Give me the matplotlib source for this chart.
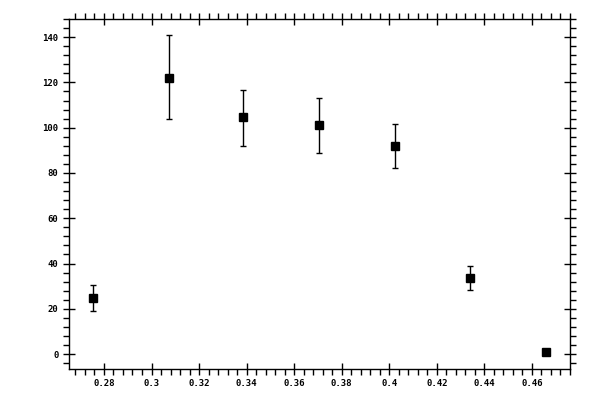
import matplotlib
matplotlib.use("Agg")
import matplotlib.pyplot as plt
from matplotlib.ticker import MultipleLocator

# values
x_vals = [0.2752, 0.3073, 0.3383, 0.3704, 0.4024, 0.4339, 0.4659]
y_vals = [24.6, 122.1, 104.5, 101.1, 92.1, 33.4, 0.8]
y_low = [18.8, 103.8, 92.1, 89.0, 82.4, 28.5, 0.8]
y_high = [30.6, 140.8, 116.8, 112.9, 101.8, 38.9, 0.8]

err_lo = [y - lo for y, lo in zip(y_vals, y_low)]
err_hi = [hi - y for y, hi in zip(y_vals, y_high)]

fig = plt.figure(figsize=(6, 4), dpi=100)
ax = fig.add_axes([0.115, 0.0775, 0.835, 0.875])

ax.errorbar(x_vals, y_vals, yerr=[err_lo, err_hi], fmt="s", color="black",
            markersize=5.5, elinewidth=1, capsize=2.5, capthick=1)

ax.set_xlim(0.2653, 0.476)
ax.set_ylim(-6.6, 148)

ax.xaxis.set_major_locator(MultipleLocator(0.02))
ax.xaxis.set_minor_locator(MultipleLocator(0.004))
ax.yaxis.set_major_locator(MultipleLocator(20))
ax.yaxis.set_minor_locator(MultipleLocator(4))

ax.tick_params(which="major", direction="inout", length=9, width=1,
               top=True, right=True, labelsize=6.5, pad=3)
ax.tick_params(which="minor", direction="out", length=4, width=1,
               top=True, right=True)

ax.xaxis.set_major_formatter(plt.FuncFormatter(lambda v, p: f"{v:g}"))

for lab in ax.get_xticklabels() + ax.get_yticklabels():
    lab.set_family("DejaVu Sans Mono")
    lab.set_fontweight("bold")

for s in ax.spines.values():
    s.set_linewidth(1)

fig.savefig("out.png", dpi=100)
